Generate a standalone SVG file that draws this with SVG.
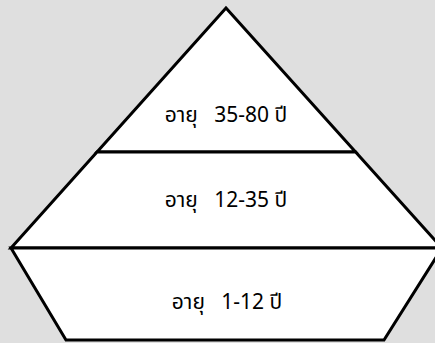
<svg xmlns="http://www.w3.org/2000/svg" width="435" height="343" viewBox="0 0 435 343">
<style>
.seg{fill:#ffffff;stroke:#000000;stroke-width:3;stroke-linejoin:miter}
.lbl{font-family:"Tahoma","Noto Sans Thai","Leelawadee UI","DejaVu Sans",sans-serif;font-size:21px;fill:#000000;text-anchor:middle;white-space:pre}
</style>
<rect x="0" y="0" width="435" height="343" fill="#dfdfdf"/>
<g id="tier-top">
<polygon class="seg" points="226,8 355.6,152 97,152"/>
<text class="lbl" x="226" y="122" xml:space="preserve">อายุ   35-80 ปี</text>
</g>
<g id="tier-middle">
<polygon class="seg" points="97,152 355.6,152 442,248 11,248"/>
<text class="lbl" x="226" y="207" xml:space="preserve">อายุ   12-35 ปี</text>
</g>
<g id="tier-bottom">
<polygon class="seg" points="11,248 442,248 384,340 66,340"/>
<text class="lbl" x="227" y="309" xml:space="preserve">อายุ   1-12 ปี</text>
</g>
<g id="connectors"></g>
</svg>
